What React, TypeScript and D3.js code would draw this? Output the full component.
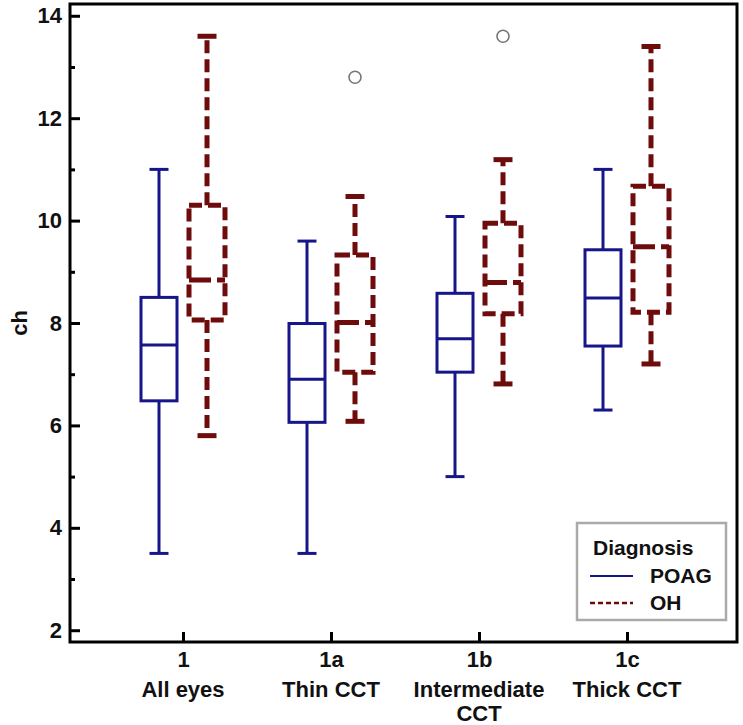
import React, { useEffect, useRef } from "react";
import * as d3 from "d3";

// categories
const groups = ["1", "1a", "1b", "1c"];
const groupNames = [["All eyes"], ["Thin CCT"], ["Intermediate", "CCT"], ["Thick CCT"]];

// POAG box stats
const poagMin = [3.5, 3.5, 5.0, 6.3];
const poagQ1 = [6.48, 6.06, 7.04, 7.55];
const poagMedian = [7.57, 6.9, 7.69, 8.49];
const poagQ3 = [8.5, 7.99, 8.58, 9.43];
const poagMax = [11.0, 9.6, 10.08, 11.0];

// OH box stats
const ohMin = [5.8, 6.08, 6.81, 7.2];
const ohQ1 = [8.06, 7.04, 8.18, 8.21];
const ohMedian = [8.84, 8.01, 8.79, 9.49];
const ohQ3 = [10.3, 9.33, 9.95, 10.67];
const ohMax = [13.6, 10.47, 11.19, 13.4];

// outliers (OH)
const outlierGroup = [2, 3];
const outlierValue = [12.8, 13.6];

const yMajor = [2, 4, 6, 8, 10, 12, 14];
const yMinor = [3, 5, 7, 9, 11, 13];

const POAG = "#16168a";
const OH = "#6e0b0b";
const FONT = "Arial, 'Liberation Sans', sans-serif";

export default function App() {
  const ref = useRef<SVGSVGElement>(null);

  useEffect(() => {
    document.body.style.margin = "0";
    const svg = d3.select(ref.current);
    svg.selectAll("*").remove();

    const left = 70, right = 737, top = 4, bottom = 642;
    const x = d3.scaleLinear().domain([0.25, 4.75]).range([left + 2, right + 1]);
    const y = d3.scaleLinear().domain([1.77, 14.23]).range([bottom, top]);

    // frame
    svg
      .append("rect")
      .attr("x", left)
      .attr("y", top)
      .attr("width", right - left)
      .attr("height", bottom - top)
      .attr("fill", "none")
      .attr("stroke", "#000")
      .attr("stroke-width", 3);

    // y axis
    const yAxis = svg
      .append("g")
      .attr("transform", "translate(" + left + ",0)")
      .call(d3.axisLeft(y).tickValues(yMajor).tickSize(-10).tickPadding(8));
    yAxis.select(".domain").remove();
    yAxis.selectAll("line").attr("stroke-width", 3);
    yAxis
      .selectAll("text")
      .style("font-family", FONT)
      .style("font-weight", "bold")
      .style("font-size", "22px")
      .attr("fill", "#111");

    const yMinorAxis = svg
      .append("g")
      .attr("transform", "translate(" + left + ",0)")
      .call(d3.axisLeft(y).tickValues(yMinor).tickSize(-5).tickFormat(() => ""));
    yMinorAxis.select(".domain").remove();
    yMinorAxis.selectAll("line").attr("stroke-width", 3);

    // x axis
    const xAxis = svg
      .append("g")
      .attr("transform", "translate(0," + bottom + ")")
      .call(
        d3
          .axisBottom(x)
          .tickValues([1, 2, 3, 4])
          .tickSize(-10)
          .tickPadding(9)
          .tickFormat((d, i) => groups[i])
      );
    xAxis.select(".domain").remove();
    xAxis.selectAll("line").attr("stroke-width", 3);
    xAxis
      .selectAll("text")
      .style("font-family", FONT)
      .style("font-weight", "bold")
      .style("font-size", "22px")
      .attr("fill", "#111");

    // category names under tick labels
    groupNames.forEach((lines, i) => {
      const t = svg
        .append("text")
        .attr("x", x(i + 1))
        .attr("y", 697)
        .attr("text-anchor", "middle")
        .style("font-family", FONT)
        .style("font-weight", "bold")
        .style("font-size", "22px")
        .attr("fill", "#111");
      lines.forEach((l, j) => {
        t.append("tspan")
          .attr("x", x(i + 1))
          .attr("dy", j === 0 ? 0 : 24)
          .text(l);
      });
    });

    // y label
    svg
      .append("text")
      .attr("transform", "rotate(-90)")
      .attr("x", -(top + bottom) / 2)
      .attr("y", 27)
      .attr("text-anchor", "middle")
      .style("font-family", FONT)
      .style("font-weight", "bold")
      .style("font-size", "22px")
      .attr("fill", "#111")
      .text("ch");

    const boxW = 36;
    const capW = 19;
    const offset = 24;

    const drawBox = (
      cx: number,
      mn: number,
      q1: number,
      md: number,
      q3: number,
      mx: number,
      color: string,
      dashed: boolean
    ) => {
      const g = svg.append("g");
      const sw = dashed ? 5 : 3;
      const dash = dashed ? "13,6" : null;
      const line = (x1: number, y1: number, x2: number, y2: number, d: string | null) =>
        g
          .append("line")
          .attr("x1", x1)
          .attr("y1", y1)
          .attr("x2", x2)
          .attr("y2", y2)
          .attr("stroke", color)
          .attr("stroke-width", sw)
          .attr("stroke-dasharray", d);
      // whiskers
      line(cx, y(q3), cx, y(mx), dash);
      line(cx, y(q1), cx, y(mn), dash);
      // caps
      line(cx - capW / 2, y(mx), cx + capW / 2, y(mx), null);
      line(cx - capW / 2, y(mn), cx + capW / 2, y(mn), null);
      // box
      g.append("rect")
        .attr("x", cx - boxW / 2)
        .attr("y", y(q3))
        .attr("width", boxW)
        .attr("height", y(q1) - y(q3))
        .attr("fill", "none")
        .attr("stroke", color)
        .attr("stroke-width", sw)
        .attr("stroke-dasharray", dash);
      // median
      line(cx - boxW / 2, y(md), cx + boxW / 2, y(md), dashed ? "22,6" : null);
    };

    groups.forEach((_, i) => {
      drawBox(x(i + 1) - offset, poagMin[i], poagQ1[i], poagMedian[i], poagQ3[i], poagMax[i], POAG, false);
      drawBox(x(i + 1) + offset, ohMin[i], ohQ1[i], ohMedian[i], ohQ3[i], ohMax[i], OH, true);
    });

    // outliers
    outlierGroup.forEach((gi, i) => {
      svg
        .append("circle")
        .attr("cx", x(gi) + offset)
        .attr("cy", y(outlierValue[i]))
        .attr("r", 6)
        .attr("fill", "#fff")
        .attr("stroke", "#777")
        .attr("stroke-width", 1.6);
    });

    // legend
    const lg = svg.append("g");
    lg.append("rect")
      .attr("x", 577)
      .attr("y", 523)
      .attr("width", 149)
      .attr("height", 97)
      .attr("fill", "#fff")
      .attr("stroke", "#aaa")
      .attr("stroke-width", 2.5);
    lg.append("text")
      .attr("x", 593)
      .attr("y", 555)
      .style("font-family", FONT)
      .style("font-weight", "bold")
      .style("font-size", "21px")
      .attr("fill", "#111")
      .text("Diagnosis");
    const items = [
      { name: "POAG", color: POAG, dash: null as string | null, sw: 2 },
      { name: "OH", color: OH, dash: "5,3", sw: 2.5 },
    ];
    items.forEach((it, i) => {
      const yy = 576 + i * 27;
      lg.append("line")
        .attr("x1", 590)
        .attr("x2", 633)
        .attr("y1", yy)
        .attr("y2", yy)
        .attr("stroke", it.color)
        .attr("stroke-width", it.sw)
        .attr("stroke-dasharray", it.dash);
      lg.append("text")
        .attr("x", 650)
        .attr("y", yy + 7)
        .style("font-family", FONT)
        .style("font-weight", "bold")
        .style("font-size", "21px")
        .attr("fill", "#111")
        .text(it.name);
    });
  }, []);

  return <svg ref={ref} width={743} height={725} style={{ display: "block", background: "#fff" }} />;
}
